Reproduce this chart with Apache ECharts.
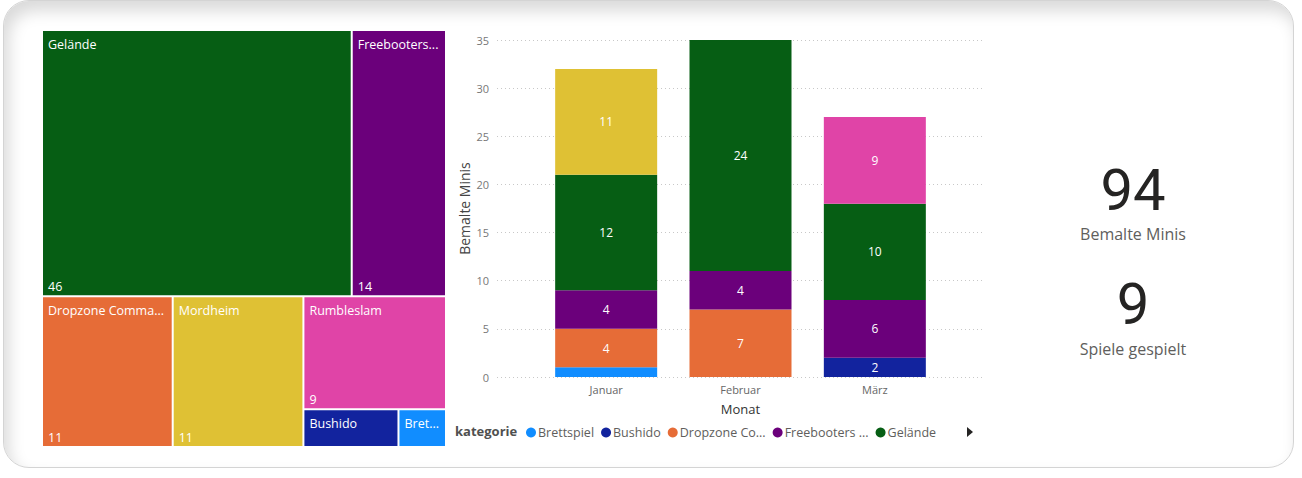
<!DOCTYPE html>
<html>
<head>
<meta charset="utf-8">
<script src="https://cdn.jsdelivr.net/npm/echarts@6/dist/echarts.min.js"></script>
<style>
  html, body { margin: 0; padding: 0; background: #ffffff; }
  #wrap { position: relative; width: 1302px; height: 478px; overflow: hidden; }
  #card {
    position: absolute; left: 3px; top: 0px; width: 1291px; height: 468px;
    box-sizing: border-box; border: 1px solid #d4d4d4; border-radius: 26px;
    background: #ffffff;
    box-shadow: inset 5px 10px 16px rgba(0,0,0,0.15);
  }
  #chart { position: absolute; left: 0; top: 0; width: 1302px; height: 478px; }
</style>
</head>
<body>
<div id="wrap">
  <div id="card"></div>
  <div id="chart"></div>
</div>
<script>
// ---- data ----
const months = ['Januar', 'Februar', 'März'];
const kategorien = ['Brettspiel', 'Bushido', 'Dropzone Commander', 'Freebooters Fate', 'Gelände', 'Mordheim', 'Rumbleslam'];
const farben = ['#118DFF', '#12239E', '#E66C37', '#6B007B', '#065E14', '#DFC134', '#E044A7'];
const brettspiel  = [1, null, null];
const bushido     = [null, null, 2];
const dropzone    = [4, 7, null];
const freebooters = [4, 4, 6];
const gelaende    = [12, 24, 10];
const mordheim    = [11, null, null];
const rumbleslam  = [null, null, 9];
const monthlySeries = [brettspiel, bushido, dropzone, freebooters, gelaende, mordheim, rumbleslam];
const kategorieTotals = [1, 2, 11, 14, 46, 11, 9];
const yTicks = [0, 5, 10, 15, 20, 25, 30, 35];
const legendShown = ['Brettspiel', 'Bushido', 'Dropzone Commander', 'Freebooters Fate', 'Gelände'];
const legendShort = ['Brettspiel', 'Bushido', 'Dropzone Co...', 'Freebooters ...', 'Gelände'];
const kpiValues = ['94', '9'];
const kpiLabels = ['Bemalte Minis', 'Spiele gespielt'];
const hideTreemapValue = ['Brettspiel', 'Bushido'];

const FONT = "'Segoe UI', 'Open Sans', 'Noto Sans', sans-serif";

const chart = echarts.init(document.getElementById('chart'), null, { renderer: 'svg' });

// treemap data fed in reverse order so equal values keep the reference tile order
const treeOrder = kategorien.map((k, i) => i).reverse();
const treeNames = treeOrder.map(i => ({
  name: kategorien[i], value: kategorieTotals[i], itemStyle: { color: farben[i] }
}));
const treeValues = treeOrder.map(i => ({
  name: kategorien[i], value: kategorieTotals[i],
  itemStyle: { color: 'rgba(0,0,0,0)' },
  label: { show: hideTreemapValue.indexOf(kategorien[i]) < 0 }
}));

const treemapBase = {
  type: 'treemap',
  left: 43, top: 31, width: 402, height: 415,
  roam: false, nodeClick: false,
  breadcrumb: { show: false },
  itemStyle: { borderWidth: 0, gapWidth: 2, borderColor: '#fff' },
  emphasis: { disabled: true },
  animation: false
};

const barSeries = kategorien.map((k, i) => ({
  name: k, type: 'bar', stack: 'total',
  xAxisIndex: 1, yAxisIndex: 1,
  barWidth: 102,
  itemStyle: { color: farben[i] },
  data: monthlySeries[i],
  label: {
    show: true, position: 'inside', color: '#ffffff', fontSize: 12, fontFamily: FONT,
    formatter: p => (p.value >= 2 ? String(p.value) : '')
  },
  emphasis: { disabled: true },
  animation: false
}));

const option = {
  animation: false,
  textStyle: { fontFamily: FONT },
  grid: [
    { left: 497, top: 40, width: 488, height: 337 },
    { left: 539, top: 40, width: 403, height: 337 }
  ],
  xAxis: [
    { gridIndex: 0, type: 'category', data: months, show: false },
    {
      gridIndex: 1, type: 'category', data: months,
      axisLine: { show: false }, axisTick: { show: false },
      axisLabel: { color: '#666', fontSize: 11, margin: 7, fontFamily: FONT },
      name: 'Monat', nameLocation: 'middle', nameGap: 25,
      nameTextStyle: { color: '#333', fontSize: 13, fontFamily: FONT }
    }
  ],
  yAxis: [
    {
      gridIndex: 0, type: 'value', min: yTicks[0], max: yTicks[yTicks.length - 1], interval: 5,
      axisLine: { show: false }, axisTick: { show: false },
      axisLabel: { color: '#777', fontSize: 11, margin: 8, fontFamily: FONT },
      splitLine: { show: true, lineStyle: { color: '#c8c8c8', type: [1, 3], width: 1 } },
      name: 'Bemalte Minis', nameLocation: 'middle', nameGap: 26, nameRotate: 90,
      nameTextStyle: { color: '#444', fontSize: 14, fontFamily: FONT }
    },
    {
      gridIndex: 1, type: 'value', min: yTicks[0], max: yTicks[yTicks.length - 1], interval: 5,
      show: false, splitLine: { show: false }
    }
  ],
  legend: {
    data: legendShown,
    left: 521, top: 421,
    icon: 'circle', itemWidth: 10, itemHeight: 10, itemGap: 7,
    selectedMode: false,
    textStyle: { color: '#605E5C', fontSize: 12.5, fontFamily: FONT, padding: [0, 0, 0, -3] },
    formatter: name => legendShort[legendShown.indexOf(name)]
  },
  graphic: [
    { type: 'text', left: 455, top: 424, style: { text: 'kategorie', fontSize: 13, fontWeight: 'bold', fill: '#505050', fontFamily: FONT } },
    { type: 'polygon', shape: { points: [[967, 427], [973, 432], [967, 437]] }, style: { fill: '#252423' } },
    { type: 'text', x: 1133, y: 190, style: { text: kpiValues[0], fontSize: 58, lineHeight: 44, fill: '#252423', fontFamily: "Roboto, 'DejaVu Sans', sans-serif", align: 'center', verticalAlign: 'middle' } },
    { type: 'text', x: 1133, y: 234, style: { text: kpiLabels[0], fontSize: 16, lineHeight: 18, fill: '#605E5C', fontFamily: FONT, align: 'center', verticalAlign: 'middle' } },
    { type: 'text', x: 1133, y: 304, style: { text: kpiValues[1], fontSize: 58, lineHeight: 44, fill: '#252423', fontFamily: "Roboto, 'DejaVu Sans', sans-serif", align: 'center', verticalAlign: 'middle' } },
    { type: 'text', x: 1133, y: 349, style: { text: kpiLabels[1], fontSize: 16, lineHeight: 18, fill: '#605E5C', fontFamily: FONT, align: 'center', verticalAlign: 'middle' } }
  ],
  series: [
    Object.assign({}, treemapBase, {
      name: 'kategorieNamen',
      data: treeNames,
      label: { show: true, position: 'insideTopLeft', formatter: '{b}', color: '#fff', fontSize: 12.5, fontFamily: FONT, distance: 0, offset: [0, 2], overflow: 'truncate', ellipsis: '...' }
    }),
    Object.assign({}, treemapBase, {
      name: 'kategorieWerte',
      silent: true,
      data: treeValues,
      label: { show: true, position: 'insideBottomLeft', formatter: '{c}', color: '#fff', fontSize: 12.5, fontFamily: FONT, distance: 0, offset: [0, 3] }
    })
  ].concat(barSeries)
};

chart.setOption(option);
</script>
</body>
</html>
